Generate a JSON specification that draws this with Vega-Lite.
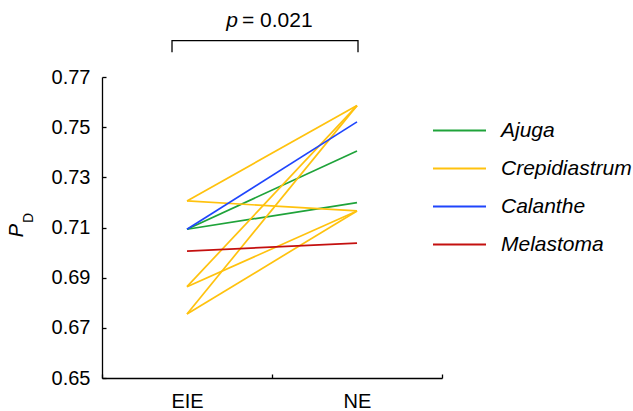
{
  "$schema": "https://vega.github.io/schema/vega-lite/v6.json",
  "width": 340,
  "height": 301,
  "autosize": "none",
  "padding": {"left": 102, "top": 77, "right": 191, "bottom": 33},
  "config": {"view": {"stroke": null}, "font": "Liberation Sans"},
  "datasets": {
    "pairs": [
      {"genus": "Ajuga", "pair": "a1", "cond": "EIE", "value": 0.7093},
      {"genus": "Ajuga", "pair": "a1", "cond": "NE", "value": 0.7405},
      {"genus": "Ajuga", "pair": "a2", "cond": "EIE", "value": 0.7093},
      {"genus": "Ajuga", "pair": "a2", "cond": "NE", "value": 0.7199},
      {"genus": "Crepidiastrum", "pair": "c1", "cond": "EIE", "value": 0.7206},
      {"genus": "Crepidiastrum", "pair": "c1", "cond": "NE", "value": 0.7586},
      {"genus": "Crepidiastrum", "pair": "c2", "cond": "EIE", "value": 0.7206},
      {"genus": "Crepidiastrum", "pair": "c2", "cond": "NE", "value": 0.7166},
      {"genus": "Crepidiastrum", "pair": "c3", "cond": "EIE", "value": 0.6864},
      {"genus": "Crepidiastrum", "pair": "c3", "cond": "NE", "value": 0.7586},
      {"genus": "Crepidiastrum", "pair": "c4", "cond": "EIE", "value": 0.6864},
      {"genus": "Crepidiastrum", "pair": "c4", "cond": "NE", "value": 0.7166},
      {"genus": "Crepidiastrum", "pair": "c5", "cond": "EIE", "value": 0.6755},
      {"genus": "Crepidiastrum", "pair": "c5", "cond": "NE", "value": 0.7586},
      {"genus": "Crepidiastrum", "pair": "c6", "cond": "EIE", "value": 0.6755},
      {"genus": "Crepidiastrum", "pair": "c6", "cond": "NE", "value": 0.7166},
      {"genus": "Calanthe", "pair": "b1", "cond": "EIE", "value": 0.7093},
      {"genus": "Calanthe", "pair": "b1", "cond": "NE", "value": 0.7521},
      {"genus": "Melastoma", "pair": "m1", "cond": "EIE", "value": 0.7006},
      {"genus": "Melastoma", "pair": "m1", "cond": "NE", "value": 0.7038}
    ],
    "bracket": [
      {"i": 1, "pos": 0.4118, "y": 0.7799},
      {"i": 2, "pos": 0.4118, "y": 0.7845},
      {"i": 3, "pos": 1.5059, "y": 0.7845},
      {"i": 4, "pos": 1.5059, "y": 0.7799}
    ],
    "labels": [
      {"pos": 0.8, "y": 0.7898, "text": "p", "kind": "p"},
      {"pos": 0.8235, "y": 0.7898, "text": "= 0.021", "kind": "eq"},
      {"pos": -0.406, "y": 0.7138, "text": "D", "kind": "sub"}
    ]
  },
  "layer": [
    {
      "data": {"name": "pairs"},
      "mark": {"type": "line", "strokeWidth": 1.7},
      "encoding": {
        "x": {
          "field": "cond", "type": "nominal", "sort": ["EIE", "NE"], "bandPosition": 0.5,
          "scale": {"type": "band", "paddingInner": 0, "paddingOuter": 0},
          "axis": {
            "title": null, "labelAngle": 0, "tickBand": "extent", "tickSize": -4,
            "labelPadding": 17, "labelFontSize": 20, "labelColor": "black",
            "domainColor": "black", "tickColor": "black", "domainWidth": 1.3, "tickWidth": 1.3, "grid": false
          }
        },
        "y": {
          "field": "value", "type": "quantitative",
          "scale": {"domain": [0.65, 0.77], "zero": false, "nice": false},
          "axis": {
            "values": [0.65, 0.67, 0.69, 0.71, 0.73, 0.75, 0.77], "format": ".2f",
            "title": "P", "titleFontStyle": "italic", "titleFontWeight": "normal", "titleFontSize": 20,
            "titleColor": "black", "titleAngle": -90, "titleX": -80, "titleY": 153,
            "titleAlign": "center", "titleBaseline": "alphabetic",
            "tickSize": -4, "labelPadding": 16, "labelFontSize": 20, "labelColor": "black",
            "domainColor": "black", "tickColor": "black", "domainWidth": 1.3, "tickWidth": 1.3, "grid": false
          }
        },
        "color": {
          "field": "genus", "type": "nominal",
          "scale": {
            "domain": ["Ajuga", "Crepidiastrum", "Calanthe", "Melastoma"],
            "range": ["#1fa33a", "#ffc20e", "#1f45fc", "#c4100f"]
          },
          "legend": {
            "title": null, "orient": "none", "legendX": 330, "legendY": 26,
            "symbolType": "stroke", "symbolSize": 2809, "symbolStrokeWidth": 1.8,
            "labelFontSize": 21, "labelFontStyle": "italic", "labelColor": "black",
            "labelOffset": 14, "rowPadding": 0
          }
        },
        "detail": {"field": "pair"}
      }
    },
    {
      "data": {"name": "bracket"},
      "mark": {"type": "line", "stroke": "black", "strokeWidth": 1.3},
      "encoding": {
        "x": {"field": "pos", "type": "quantitative", "scale": {"domain": [0, 2]}, "axis": null},
        "y": {"field": "y", "type": "quantitative", "scale": {"domain": [0.65, 0.77], "zero": false, "nice": false}},
        "order": {"field": "i"}
      }
    },
    {
      "data": {"name": "labels"},
      "transform": [{"filter": "datum.kind == 'p'"}],
      "mark": {"type": "text", "align": "right", "baseline": "alphabetic", "fontSize": 21, "fontStyle": "italic", "color": "black"},
      "encoding": {
        "x": {"field": "pos", "type": "quantitative", "scale": {"domain": [0, 2]}, "axis": null},
        "y": {"field": "y", "type": "quantitative", "scale": {"domain": [0.65, 0.77], "zero": false, "nice": false}},
        "text": {"field": "text"}
      }
    },
    {
      "data": {"name": "labels"},
      "transform": [{"filter": "datum.kind == 'eq'"}],
      "mark": {"type": "text", "align": "left", "baseline": "alphabetic", "fontSize": 21, "color": "black"},
      "encoding": {
        "x": {"field": "pos", "type": "quantitative", "scale": {"domain": [0, 2]}, "axis": null},
        "y": {"field": "y", "type": "quantitative", "scale": {"domain": [0.65, 0.77], "zero": false, "nice": false}},
        "text": {"field": "text"}
      }
    },
    {
      "data": {"name": "labels"},
      "transform": [{"filter": "datum.kind == 'sub'"}],
      "mark": {"type": "text", "align": "center", "baseline": "alphabetic", "angle": 270, "fontSize": 14, "color": "black"},
      "encoding": {
        "x": {"field": "pos", "type": "quantitative", "scale": {"domain": [0, 2]}, "axis": null},
        "y": {"field": "y", "type": "quantitative", "scale": {"domain": [0.65, 0.77], "zero": false, "nice": false}},
        "text": {"field": "text"}
      }
    }
  ],
  "resolve": {"scale": {"x": "independent"}}
}
